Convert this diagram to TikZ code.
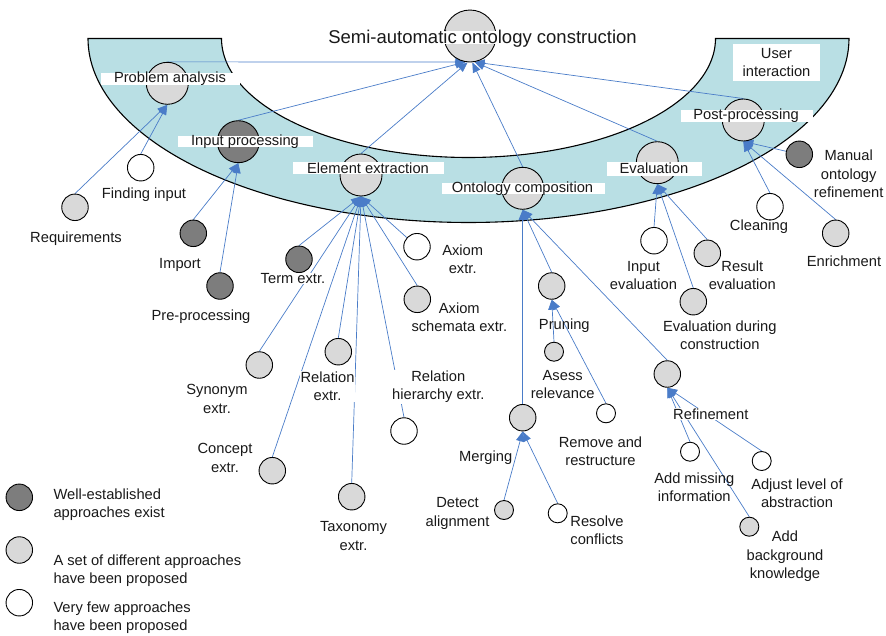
\documentclass[tikz,border=0pt]{standalone}
\usepackage{fontspec}
\setmainfont{Liberation Sans}
\usetikzlibrary{arrows.meta}
\definecolor{bandc}{RGB}{185,223,228}
\definecolor{lgrey}{RGB}{217,217,217}
\definecolor{dgrey}{RGB}{125,125,125}
\definecolor{arrowc}{RGB}{74,124,200}
\definecolor{txt}{RGB}{25,25,25}
\pgfdeclarelayer{bg}
\pgfsetlayers{bg,main}
\tikzset{
  cbase/.style={circle, draw=black, line width=0.9pt, inner sep=0pt},
  bigc/.style={cbase, minimum size=42pt},
  smc/.style={cbase, minimum size=26.5pt},
  tinyc/.style={cbase, minimum size=19pt},
  lf/.style={fill=lgrey},
  df/.style={fill=dgrey},
  wf/.style={fill=white},
  conn/.style={draw=arrowc, line width=0.7pt, -{Triangle[length=10pt,width=8pt]}},
  lbl/.style={font=\fontsize{14.7}{18.3}\selectfont, text=txt, align=center, inner sep=1pt},
  wlbl/.style={lbl, fill=white},
  leg/.style={lbl, align=left, anchor=west, inner sep=0pt},
  band/.style={fill=bandc, draw=black, line width=1.1pt}
}
\begin{document}
\begin{tikzpicture}[x=1pt,y=-1pt]
\useasboundingbox (0,0) rectangle (886,635);

% ---- main circles
\node[bigc,lf, minimum size=52pt] (top) at (470,36) {};
\node[bigc,lf] (pa) at (167.3,83.3) {};
\node[bigc,df] (ip) at (238.3,141.7) {};
\node[bigc,lf] (ee) at (361,175) {};
\node[bigc,lf] (oc) at (522.7,188.3) {};
\node[bigc,lf] (ev) at (657.3,162.7) {};
\node[bigc,lf] (pp) at (743.3,120) {};

% ---- small circles
\node[smc,lf] (req) at (75,207.3) {};
\node[smc,wf] (find) at (140.7,167.7) {};
\node[smc,df] (imp) at (193.3,233.3) {};
\node[smc,df] (pre) at (220,286) {};
\node[smc,df] (term) at (299,259.3) {};
\node[smc,wf] (ax) at (417,246.7) {};
\node[smc,lf] (axs) at (417.3,299.3) {};
\node[smc,lf] (syn) at (259.3,365) {};
\node[smc,lf] (rel) at (338.3,351.7) {};
\node[smc,wf] (relh) at (404,431) {};
\node[smc,lf] (con) at (272.3,470.7) {};
\node[smc,lf] (tax) at (351.7,496.7) {};
\node[smc,df] (man) at (799.3,154.3) {};
\node[smc,wf] (clean) at (770,206.7) {};
\node[smc,lf] (enr) at (835.7,233.3) {};
\node[smc,wf] (ineval) at (654,240.7) {};
\node[smc,lf] (reseval) at (707.3,253.3) {};
\node[smc,lf] (dureval) at (693.3,301.7) {};
\node[smc,lf] (merg) at (522.7,417.7) {};
\node[smc,lf] (prun) at (551.7,286) {};
\node[smc,lf] (refi) at (667.3,374) {};

% ---- tiny circles
\node[tinyc,lf] (asess) at (554,351.7) {};
\node[tinyc,wf] (remove) at (606,413.3) {};
\node[tinyc,lf] (detect) at (504,510) {};
\node[tinyc,wf] (resolve) at (557.7,513.3) {};
\node[tinyc,wf] (addmiss) at (690,451.7) {};
\node[tinyc,wf] (adjust) at (761.7,461) {};
\node[tinyc,lf] (addback) at (749.3,526.7) {};

% ---- legend circles
\node[smc,df] (lg1) at (19.3,497.3) {};
\node[smc,lf] (lg2) at (19.3,550) {};
\node[smc,wf] (lg3) at (19.3,602.7) {};

% ---- title
\fill[white] (325,31) rectangle (640,43.5);
\node[font=\fontsize{18.5}{22}\selectfont, text=txt, inner sep=0pt] (title) at (482.5,38.3) {Semi-automatic ontology construction};

% ---- main labels with white boxes
\fill[white] (101,73) rectangle (240,85);
\node[lbl] (lpa) at (170,79) {Problem analysis};
\fill[white] (178,136) rectangle (313,147);
\node[lbl] (lip) at (245,141.7) {Input processing};
\fill[white] (293,162) rectangle (444,174);
\node[lbl] (lee) at (368,168.3) {Element extraction};
\fill[white] (441.7,182.7) rectangle (605,194);
\node[lbl] (loc) at (522.5,188.8) {Ontology composition};
\fill[white] (606.7,161.7) rectangle (701.7,175.7);
\node[lbl] (lev) at (654,168.5) {Evaluation};
\fill[white] (681,110) rectangle (812.7,121.7);
\node[lbl] (lpp) at (746,116) {Post-processing};
\node[lbl, fill=white, minimum width=87pt, minimum height=37pt] (lui) at (776.5,62.5) {User\\interaction};

% ---- other labels
\node[lbl] (lfind) at (144,194.5) {Finding input};
\node[lbl] (lreq) at (76,238.8) {Requirements};
\node[lbl] (limp) at (180,264.5) {Import};
\node[lbl] (lpre) at (201,317) {Pre-processing};
\node[wlbl, inner sep=0.5pt] (lterm) at (293,278.8) {Term extr.};
\node[lbl] (lax) at (462.7,259.5) {Axiom\\extr.};
\node[lbl] (laxs) at (459.3,317) {Axiom\\schemata extr.};
\node[lbl] (lsyn) at (217,398.8) {Synonym\\extr.};
\node[wlbl] (lrel) at (327.5,386.5) {Relation\\extr.};
\node[wlbl] (lrelh) at (438.3,386.5) {Relation\\hierarchy extr.};
\node[lbl] (lcon) at (225,457.8) {Concept\\extr.};
\node[lbl] (ltax) at (353.5,536) {Taxonomy\\extr.};
\node[lbl] (lman) at (848.7,174) {Manual\\ontology\\refinement};
\node[lbl] (lclean) at (759,226.5) {Cleaning};
\node[lbl] (lenr) at (844,261) {Enrichment};
\node[lbl] (lineval) at (643.5,275.3) {Input\\evaluation};
\node[lbl] (lreseval) at (742.3,275.3) {Result\\evaluation};
\node[lbl] (ldureval) at (719.8,335.3) {Evaluation during\\construction};
\node[lbl] (lprun) at (564.3,325.5) {Pruning};
\node[lbl] (lasess) at (562.7,384.5) {Asess\\relevance};
\node[lbl] (lremove) at (600.5,451.5) {Remove and\\restructure};
\node[wlbl, inner sep=0.5pt] (lmerg) at (485.7,457.8) {Merging};
\node[lbl] (ldetect) at (457.5,513.5) {Detect\\alignment};
\node[lbl] (lresolve) at (597,530.3) {Resolve\\conflicts};
\node[wlbl, inner sep=0.5pt] (lrefi) at (710.8,414.3) {Refinement};
\node[lbl, fill=none] (laddmiss) at (694.3,487.5) {Add missing\\information};
\node[lbl] (ladjust) at (797,493.5) {Adjust level of\\abstraction};
\node[lbl] (laddback) at (785,556.3) {Add\\background\\knowledge};

% ---- legend text
\node[leg] (lt1) at (53.3,504.5) {Well-established\\approaches exist};
\node[leg] (lt2) at (53.3,570.5) {A set of different approaches\\have been proposed};
\node[leg] (lt3) at (53.3,617.5) {Very few approaches\\have been proposed};

% ---- background: band and connectors
\begin{pgfonlayer}{bg}
\path[band] (88,38.5)
  -- plot[domain=180:360,samples=160] ({468.5+380.5*cos(\x)},{38.5-184*sin(\x)})
  -- (715.5,38.5)
  -- plot[domain=360:180,samples=160] ({468.5+247*cos(\x)},{38.5-119*sin(\x)})
  -- cycle;

\draw[conn] (pa.north) -- (top.-100);
\draw[conn] (ip.north) -- (top.-100);
\draw[conn] (ee.north) -- (top.-95);
\draw[conn] (oc.north) -- (top.-85);
\draw[conn] (ev.north) -- (top.-80);
\draw[conn] (pp.north) -- (top.-80);

\draw[conn] (req.north) -- (pa.south);
\draw[conn] (find.north) -- (pa.south);
\draw[conn] (imp.north) -- (ip.south);
\draw[conn] (pre.north) -- (ip.south);

\draw[conn] (term.north) -- (ee.south);
\draw[conn] (syn.north) -- (ee.south);
\draw[conn] (con.north) -- (ee.south);
\draw[conn] (rel.north) -- (ee.south);
\draw[conn] (tax.north) -- (ee.south);
\draw[conn] (relh.north) -- (ee.south);
\draw[conn] (ax) -- (ee.south);
\draw[conn] (axs.north) -- (ee.south);

\draw[conn] (merg.north) -- (oc.south);
\draw[conn] (prun.north) -- (oc.south);
\draw[conn] (refi.north) -- (oc.south);

\draw[conn] (asess.north) -- (prun.south);
\draw[conn] (remove.north) -- (prun.south);
\draw[conn] (detect.north) -- (merg.south);
\draw[conn] (resolve.north) -- (merg.south);
\draw[conn] (addmiss.north) -- (refi.south);
\draw[conn] (adjust.north) -- (refi.south);
\draw[conn] (addback.north) -- (refi.south);

\draw[conn] (ineval.north) -- (ev.south);
\draw[conn] (reseval.north) -- (ev.south);
\draw[conn] (dureval.north) -- (ev.south);

\draw[conn] (man) -- (pp.south);
\draw[conn] (clean.north) -- (pp.south);
\draw[conn] (enr.north) -- (pp.south);
\end{pgfonlayer}
\end{tikzpicture}
\end{document}
